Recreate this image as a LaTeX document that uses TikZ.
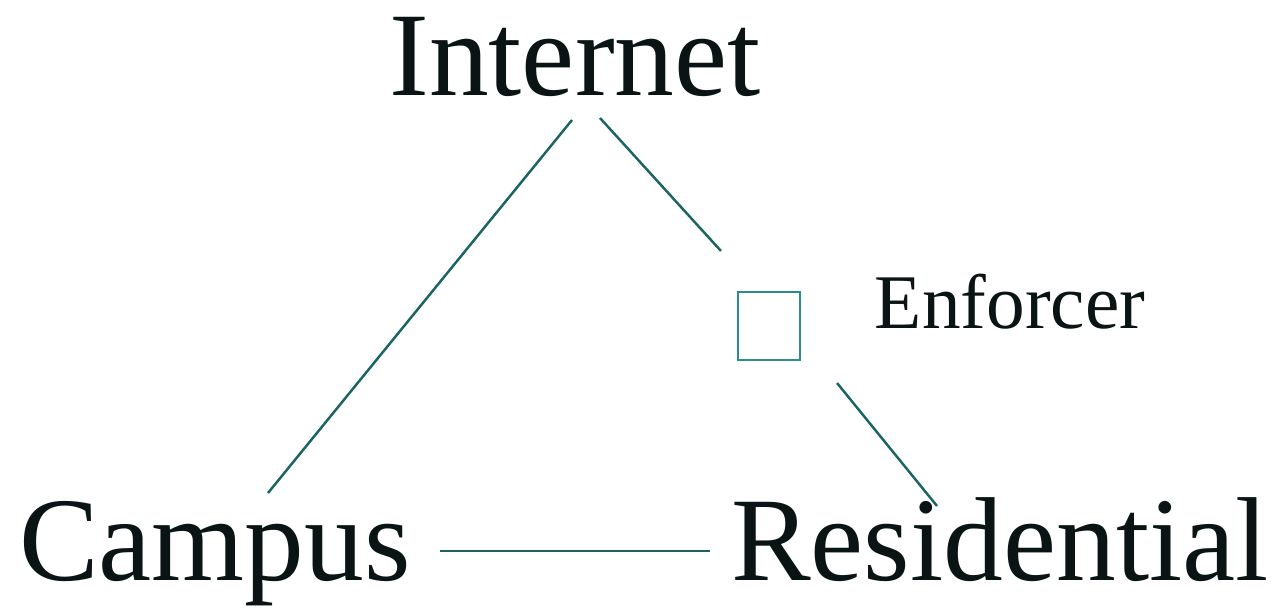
\documentclass[tikz,border=0pt]{standalone}
\usepackage{fontspec}
\setmainfont{Liberation Serif}
\usepackage{tikz}
\usetikzlibrary{positioning}
\usetikzlibrary{calc}

\definecolor{linkcol}{HTML}{1A6464}
\definecolor{boxcol}{HTML}{2A8C8C}
\definecolor{txtcol}{HTML}{0A1414}

\tikzset{
  site/.style={inner sep=0pt, anchor=base, text=txtcol, font=\fontsize{68}{70}\selectfont},
  label/.style={inner sep=0pt, anchor=base, text=txtcol, font=\fontsize{44}{46}\selectfont},
  link/.style={draw=linkcol, line width=1.4pt},
  enfbox/.style={draw=boxcol, line width=1.2pt, minimum width=1.24cm, minimum height=1.36cm, inner sep=0pt}
}

\begin{document}
\begin{tikzpicture}[x=0.02cm, y=-0.02cm]
\useasboundingbox (0,0) rectangle (1283,608);

\node[site] (inet) at (575,95) {Internet};
\node[site] (camp) at (215,580) {Campus};
\node[site] (res) at (1000,580) {Residential};

\node[enfbox] (enf) at (769,326) {};
\node[label] (enflabel) at (1010,328) {Enforcer};

\draw[link] ($(inet.base)+(-3,25)$) -- ($(camp.base)+(53,-87)$);
\draw[link] ($(inet.base)+(25,23)$) -- ($(enf.north west)+(-16,-40)$);
\draw[link] ($(enf.south east)+(36,22)$) -- ($(res.base)+(-63,-74)$);

\draw[link] ($(camp.base)+(225,-29)$) -- ($(res.base)+(-290,-29)$);
\end{tikzpicture}
\end{document}
